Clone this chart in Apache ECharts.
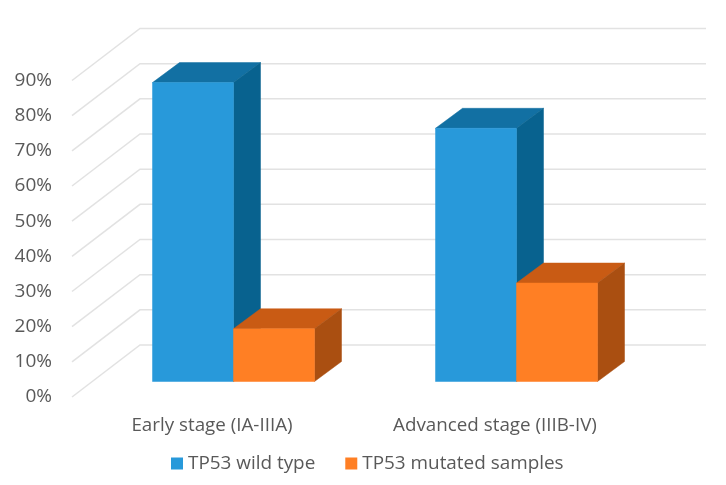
<!DOCTYPE html>
<html>
<head>
<meta charset="utf-8">
<style>
  html, body { margin: 0; padding: 0; background: #fff; }
  #chart { width: 726px; height: 485px; }
</style>
<script src="https://cdn.jsdelivr.net/npm/echarts@6/dist/echarts.min.js"></script>
</head>
<body>
<div id="chart"></div>
<script>
const categories = ['Early stage (IA-IIIA)', 'Advanced stage (IIIB-IV)']
const wildType = [85, 72]
const mutated = [15, 28]
const ticks = [0, 10, 20, 30, 40, 50, 60, 70, 80, 90]

// fake 3d: wall depth and where the bars sit inside it, in pixels
const wallDx = 68
const wallDy = 52
const barShiftX = 20
const barShiftY = 15.5
const barDx = 27
const barDy = 20
const barWidth = 81

const chart = echarts.init(document.getElementById('chart'))

const renderWall = (params, api) => {
  const p = api.coord([0, api.value(1)])
  const x0 = params.coordSys.x
  return {
    type: 'polyline',
    shape: {
      points: [
        [x0, p[1]],
        [x0 + wallDx, p[1] - wallDy],
        [x0 + params.coordSys.width + wallDx, p[1] - wallDy]
      ]
    },
    style: { fill: null, stroke: '#e2e2e2', lineWidth: 1.5 }
  }
}

// side: -1 draws the bar left of the band centre, 0 right of it
const makeBarRender = (side, front, top, right) => (params, api) => {
  const idx = api.value(0)
  const high = api.coord([idx, api.value(1)])
  const low = api.coord([idx, 0])
  const x1 = high[0] + barShiftX + side * barWidth
  const x2 = x1 + barWidth
  const y1 = high[1] - barShiftY
  const y2 = low[1] - barShiftY
  const poly = (points, fill) => ({
    type: 'polygon',
    shape: { points },
    style: { fill, stroke: fill, lineWidth: 0.5 }
  })
  return {
    type: 'group',
    children: [
      poly([[x1, y1], [x1 + barDx, y1 - barDy], [x2 + barDx, y1 - barDy], [x2, y1]], top),
      poly([[x2, y1], [x2 + barDx, y1 - barDy], [x2 + barDx, y2 - barDy], [x2, y2]], right),
      poly([[x1, y1], [x2, y1], [x2, y2], [x1, y2]], front)
    ]
  }
}

const option = {
  backgroundColor: '#fff',
  animation: false,
  textStyle: { fontFamily: '"Open Sans", sans-serif' },
  legend: {
    data: ['TP53 wild type', 'TP53 mutated samples'],
    left: 171,
    top: 454,
    padding: 0,
    icon: 'rect',
    itemWidth: 12,
    itemHeight: 12,
    itemGap: 30,
    selectedMode: false,
    textStyle: { color: '#595959', fontSize: 18.9, fontFamily: '"Open Sans", sans-serif' }
  },
  grid: { left: 72, right: 88, top: 80.5, height: 316.5 },
  xAxis: {
    type: 'category',
    data: categories,
    axisLine: { show: false },
    axisTick: { show: false },
    axisLabel: { color: '#595959', fontSize: 18.8, margin: 19, padding: [0, 3, 0, 0] }
  },
  yAxis: {
    type: 'value',
    min: 0,
    max: 90,
    interval: 10,
    axisLine: { show: false },
    axisTick: { show: false },
    splitLine: { show: false },
    axisLabel: { color: '#595959', fontSize: 19, margin: 20, padding: [9, 0, 0, 0], formatter: '{value}%' }
  },
  series: [
    {
      type: 'custom',
      name: 'wall',
      silent: true,
      clip: false,
      z: 1,
      renderItem: renderWall,
      data: ticks.map(t => [0, t])
    },
    {
      type: 'custom',
      name: 'TP53 wild type',
      clip: false,
      z: 2,
      itemStyle: { color: '#2899da' },
      renderItem: makeBarRender(-1, '#2899da', '#1270a3', '#08628f'),
      data: wildType.map((v, i) => [i, v])
    },
    {
      type: 'custom',
      name: 'TP53 mutated samples',
      clip: false,
      z: 3,
      itemStyle: { color: '#ff7f24' },
      renderItem: makeBarRender(0, '#ff7f24', '#c95b14', '#aa4f11'),
      data: mutated.map((v, i) => [i, v])
    }
  ]
}

chart.setOption(option)
</script>
</body>
</html>
